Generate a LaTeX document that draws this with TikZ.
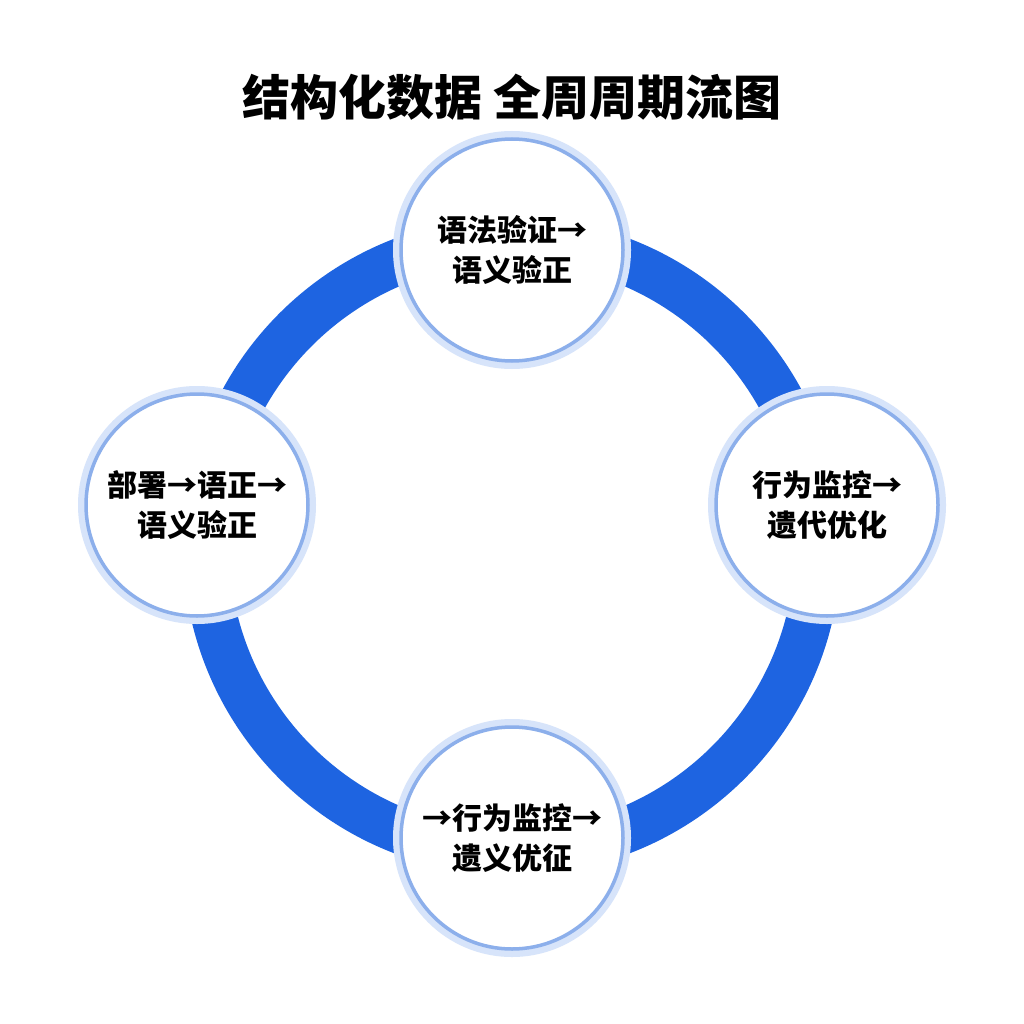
\documentclass[tikz,border=0pt]{standalone}
\usepackage{fontspec}
\setmainfont{Noto Sans CJK SC}[BoldFont={* Black}]
\definecolor{ringblue}{RGB}{30,100,225}
\definecolor{edgeblue}{RGB}{140,175,235}
\definecolor{glowblue}{RGB}{215,228,250}
\begin{document}
\begin{tikzpicture}[x=1pt,y=-1pt,
  stage/.style={circle,minimum size=222pt,draw=edgeblue,line width=3.5pt,fill=white,
    align=center,font=\fontsize{30}{40}\selectfont\bfseries,inner sep=0pt},
  glow/.style={circle,minimum size=238pt,fill=glowblue,draw=none}]
\useasboundingbox (0,0) rectangle (1024,1024);
\fill[white] (0,0) rectangle (1024,1024);
\node (title) at (512,97) {\fontsize{48}{56}\selectfont\bfseries 结构化数据 全周周期流图};
\coordinate (c) at (512,546);
\draw[line width=46pt,color=ringblue] (c) circle (306);
\foreach \p in {(512,250),(197,505),(827,505),(512,838)} \node[glow] at \p {};
\node[stage] (top) at (512,250) {语法验证→\\语义验正};
\node[stage] (left) at (197,505) {部署→语正→\\语义验正};
\node[stage] (right) at (827,505) {行为监控→\\遗代优化};
\node[stage] (bottom) at (512,838) {→行为监控→\\遗义优征};
\end{tikzpicture}
\end{document}
